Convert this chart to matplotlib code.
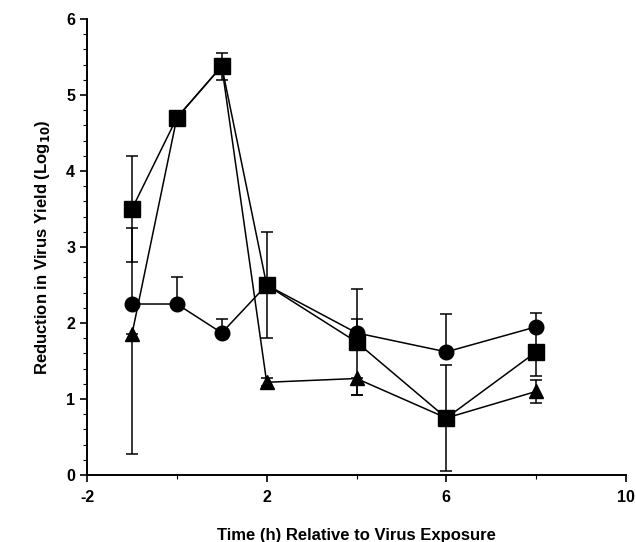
import numpy as np
import matplotlib
matplotlib.use("Agg")
import matplotlib.pyplot as plt
from matplotlib.ticker import MultipleLocator, FixedLocator

plt.rcParams['font.family'] = ['Liberation Sans', 'DejaVu Sans']
plt.rcParams['font.weight'] = 'bold'
plt.rcParams['axes.unicode_minus'] = False

# time points (h relative to virus exposure)
hours = [-1, 0, 1, 2, 4, 6, 8]

# circles
circle_y = [2.25, 2.25, 1.87, 2.5, 1.87, 1.62, 1.95]
circle_lo = [0, 0, 0, 0, 0, 0, 0]
circle_hi = [1.0, 0.35, 0.18, 0, 0.18, 0.5, 0.18]

# squares
square_y = [3.5, 4.7, 5.38, 2.5, 1.75, 0.75, 1.62]
square_lo = [0.7, 0.05, 0.18, 0.7, 0.7, 0.7, 0.32]
square_hi = [0.7, 0.05, 0.17, 0.7, 0.7, 0.7, 0.32]

# triangles
tri_y = [1.85, 4.7, 5.38, 1.22, 1.27, 0.75, 1.1]
tri_lo = [1.57, 0.05, 0.05, 0.05, 0.22, 0.05, 0.15]
tri_hi = [0, 0.05, 0.05, 0.05, 0, 0.05, 0.15]

x_major = [-2, 2, 6, 10]
x_minor = [0, 4, 8]

fig = plt.figure(figsize=(6.36, 5.42), dpi=100)
ax = fig.add_axes([0.1368, 0.1236, 0.8475, 0.8413])

style = dict(color='black', lw=1.1, elinewidth=1.1, capsize=4.5, capthick=1.1)
ax.errorbar(hours, tri_y, yerr=[tri_lo, tri_hi], marker='^', ms=10, **style)
ax.errorbar(hours, square_y, yerr=[square_lo, square_hi], marker='s', ms=11, **style)
ax.errorbar(hours, circle_y, yerr=[circle_lo, circle_hi], marker='o', ms=10.5, **style)

ax.set_xlim(-2, 10)
ax.set_ylim(0, 6)
ax.xaxis.set_major_locator(FixedLocator(x_major))
ax.xaxis.set_minor_locator(FixedLocator(x_minor))
ax.yaxis.set_major_locator(MultipleLocator(1))
ax.yaxis.set_minor_locator(MultipleLocator(0.2))
ax.tick_params(which='major', length=5, width=1.2, labelsize=11.5)
ax.tick_params(axis='x', which='major', pad=6)
ax.tick_params(which='minor', length=3, width=0.8)
for s in ['top', 'right']:
    ax.spines[s].set_visible(False)
for s in ['left', 'bottom']:
    ax.spines[s].set_linewidth(1.4)

ax.set_xlabel('Time (h) Relative to Virus Exposure', fontsize=12, fontweight='bold', labelpad=16)
ax.set_ylabel('Reduction in Virus Yield (Log$_{\\mathbf{10}}$)', fontsize=12, fontweight='bold', labelpad=10)

fig.savefig('out.png', dpi=100)
